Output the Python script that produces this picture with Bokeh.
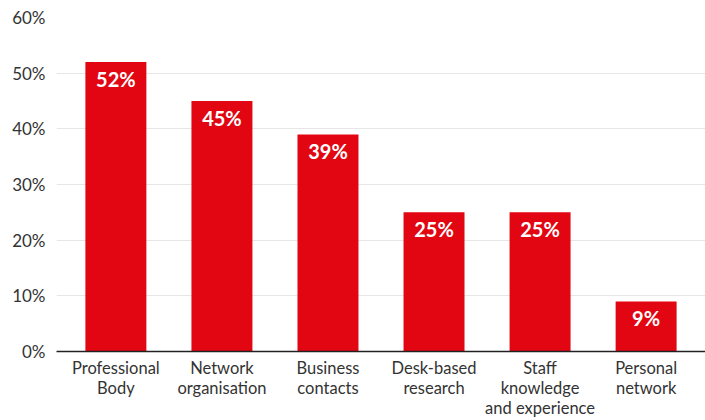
from bokeh.plotting import figure
from bokeh.models import ColumnDataSource, Range1d, FixedTicker
from bokeh.embed import file_html
from bokeh.resources import INLINE
from bokeh.core.properties import value

categories = ["Professional\nBody", "Network\norganisation", "Business\ncontacts",
              "Desk-based\nresearch", "Staff\nknowledge\nand experience", "Personal\nnetwork"]
values = [52, 45, 39, 25, 25, 9]
y_ticks = [0, 10, 20, 30, 40, 50, 60]

xs = list(range(len(categories)))
src = ColumnDataSource(dict(x=xs, top=values, label=[f"{v}%" for v in values]))

p = figure(width=705, height=420, output_backend="svg", toolbar_location=None,
           x_range=Range1d(-0.56, 5.56), y_range=Range1d(0, 60),
           min_border_left=56, min_border_right=0, min_border_top=17, min_border_bottom=69)
p.outline_line_color = None
p.background_fill_color = "white"
p.border_fill_color = "white"

p.vbar(x="x", top="top", width=0.575, bottom=0, source=src, color="#E20613", line_color=None)
p.text(x="x", y="top", text="label", source=src, y_offset=17,
       text_align="center", text_baseline="middle", text_color="white",
       text_font=value("Lato"), text_font_style="bold", text_font_size="20px")

p.xgrid.visible = False
p.ygrid.grid_line_color = "#e6e6e6"
p.ygrid.grid_line_width = 1
p.yaxis.ticker = FixedTicker(ticks=y_ticks)
p.yaxis.major_label_overrides = {t: f"{t}%" for t in y_ticks}
p.yaxis.axis_line_color = None
p.yaxis.major_tick_line_color = None
p.yaxis.minor_tick_line_color = None
p.yaxis.major_tick_out = 0
p.yaxis.major_label_standoff = 11
p.yaxis.major_label_text_font = "Lato"
p.yaxis.major_label_text_font_size = "17px"
p.yaxis.major_label_text_color = "#333333"

p.xaxis.ticker = FixedTicker(ticks=xs)
p.xaxis.major_label_overrides = {i: c for i, c in zip(xs, categories)}
p.xaxis.axis_line_color = "#222222"
p.xaxis.axis_line_width = 1.5
p.xaxis.major_tick_line_color = None
p.xaxis.minor_tick_line_color = None
p.xaxis.major_tick_out = 0
p.xaxis.major_label_standoff = 6
p.xaxis.major_label_text_font = "Lato"
p.xaxis.major_label_text_font_size = "16.5px"
p.xaxis.major_label_text_color = "#333333"
p.xaxis.major_label_text_line_height = 1.0

open("out.html", "w").write(file_html(p, INLINE))
